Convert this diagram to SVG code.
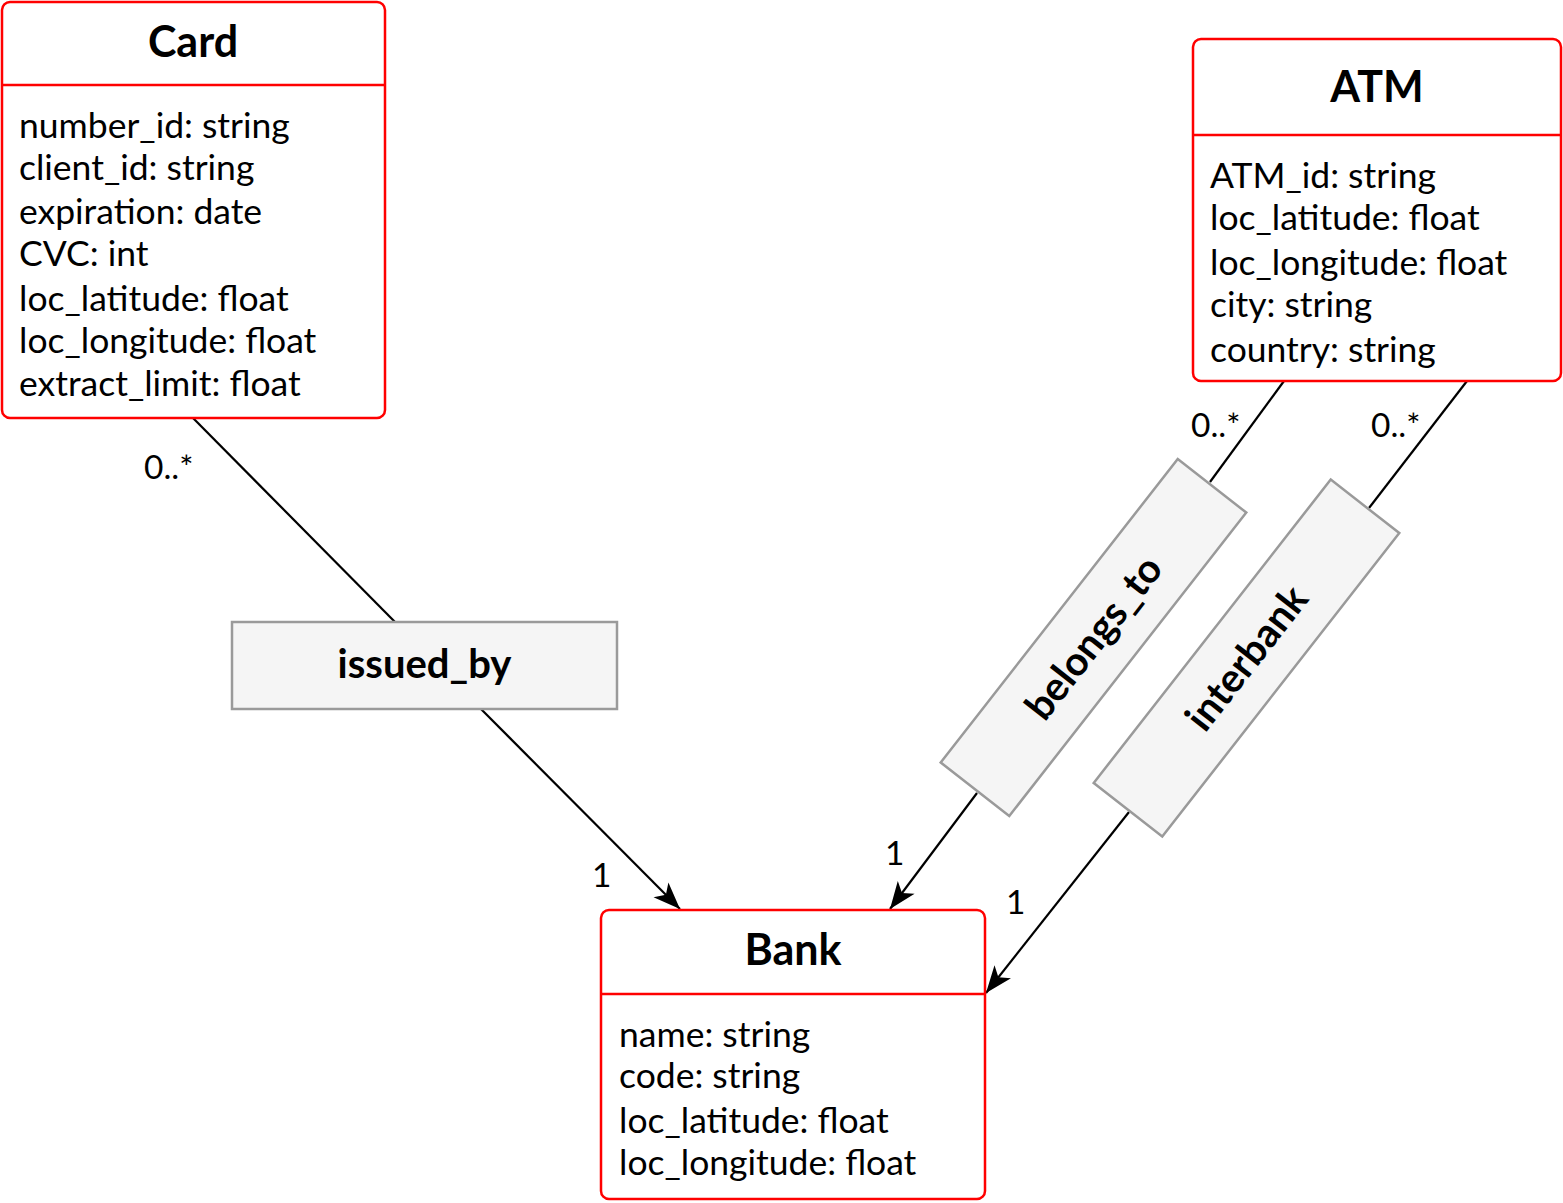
<svg xmlns="http://www.w3.org/2000/svg" width="1563" height="1203" viewBox="0 0 1563 1203">
<style>
.cls{fill:#ffffff;stroke:#ff0000;stroke-width:2.5}
.div{stroke:#ff0000;stroke-width:2.5}
.rel{fill:#f5f5f5;stroke:#9a9a9a;stroke-width:2.5}
.title{font-family:Lato,"Liberation Sans",sans-serif;font-weight:bold;font-size:43px;fill:#000;text-anchor:middle}
.attr{font-family:Lato,"Liberation Sans",sans-serif;font-size:35.5px;fill:#000}
.rtxt{font-family:Lato,"Liberation Sans",sans-serif;font-weight:bold;font-size:40px;fill:#000;text-anchor:middle}
.mult{font-family:Lato,"Liberation Sans",sans-serif;font-size:33.5px;fill:#000}
.edge{stroke:#000;stroke-width:2.2;fill:none}
</style>
<defs>
<marker id="arr" viewBox="-28 -12 30 24" markerWidth="30" markerHeight="24" refX="0" refY="0" orient="auto" markerUnits="userSpaceOnUse">
<path d="M0,0 L-27,-10.5 L-20,0 L-27,10.5 Z" fill="#000"/>
</marker>
</defs>
<g id="connectors">
<line class="edge" x1="193" y1="418" x2="395" y2="622"/>
<line class="edge" x1="481" y1="709" x2="680" y2="909" marker-end="url(#arr)"/>
<line class="edge" x1="1284" y1="381" x2="1210" y2="482"/>
<line class="edge" x1="977" y1="793" x2="890" y2="909" marker-end="url(#arr)"/>
<line class="edge" x1="1467" y1="381" x2="1369" y2="508"/>
<line class="edge" x1="1129" y1="812" x2="986" y2="993" marker-end="url(#arr)"/>
<text class="mult" x="144" y="479">0..*</text>
<text class="mult" x="1191" y="437">0..*</text>
<text class="mult" x="1371" y="437">0..*</text>
<text class="mult" x="592" y="887">1</text>
<text class="mult" x="885" y="865">1</text>
<text class="mult" x="1006" y="914">1</text>
</g>
<g id="card">
<rect class="cls" x="2" y="2" width="383" height="416" rx="8"/>
<line class="div" x1="2" y1="85" x2="385" y2="85"/>
<text class="title" x="193" y="57">Card</text>
<text class="attr" x="19" y="138">number_id: string</text>
<text class="attr" x="19" y="180">client_id: string</text>
<text class="attr" x="19" y="224">expiration: date</text>
<text class="attr" x="19" y="266">CVC: int</text>
<text class="attr" x="19" y="311">loc_latitude: float</text>
<text class="attr" x="19" y="353">loc_longitude: float</text>
<text class="attr" x="19" y="396">extract_limit: float</text>
</g>
<g id="atm">
<rect class="cls" x="1193" y="39" width="368" height="342" rx="8"/>
<line class="div" x1="1193" y1="135" x2="1561" y2="135"/>
<text class="title" x="1377" y="102">ATM</text>
<text class="attr" x="1210" y="188">ATM_id: string</text>
<text class="attr" x="1210" y="230">loc_latitude: float</text>
<text class="attr" x="1210" y="275">loc_longitude: float</text>
<text class="attr" x="1210" y="317">city: string</text>
<text class="attr" x="1210" y="362">country: string</text>
</g>
<g id="bank">
<rect class="cls" x="601" y="910" width="384" height="289" rx="8"/>
<line class="div" x1="601" y1="994" x2="985" y2="994"/>
<text class="title" x="793" y="965">Bank</text>
<text class="attr" x="619" y="1047">name: string</text>
<text class="attr" x="619" y="1088">code: string</text>
<text class="attr" x="619" y="1133">loc_latitude: float</text>
<text class="attr" x="619" y="1175">loc_longitude: float</text>
</g>
<g id="issued_by">
<rect class="rel" x="232" y="622" width="385" height="87"/>
<text class="rtxt" x="424.5" y="678">issued_by</text>
</g>
<g id="belongs_to" transform="translate(1093.5,637.5) rotate(-52)">
<rect class="rel" x="-192.5" y="-43.5" width="385" height="87"/>
<text class="rtxt" x="0" y="14">belongs_to</text>
</g>
<g id="interbank" transform="translate(1246.5,658) rotate(-52)">
<rect class="rel" x="-192.5" y="-43.5" width="385" height="87"/>
<text class="rtxt" x="0" y="14">interbank</text>
</g>
</svg>
